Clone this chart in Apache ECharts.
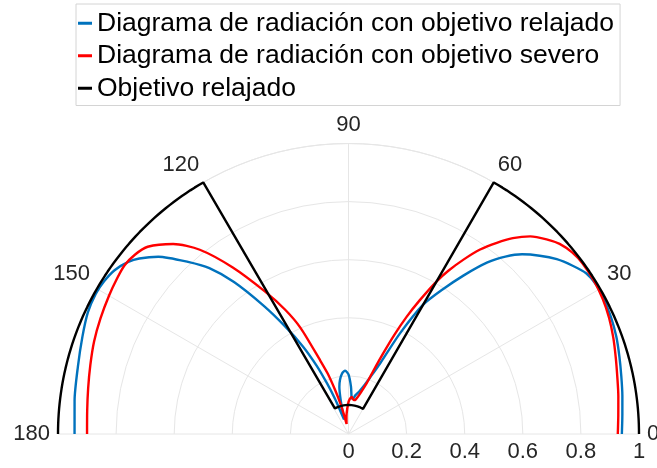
<!DOCTYPE html>
<html>
<head>
<meta charset="utf-8">
<script src="https://cdn.jsdelivr.net/npm/echarts@6/dist/echarts.min.js"></script>
<style>
  html, body { margin: 0; padding: 0; background: #ffffff; }
  #chart { width: 657px; height: 468px; }
</style>
</head>
<body>
<div id="chart"></div>
<script>
// Angular and radial tick values of the half-polar frame
const thetaTicks = [0, 30, 60, 90, 120, 150, 180];
const radiusTicks = [0, 0.2, 0.4, 0.6, 0.8, 1];

// Radiation pattern obtained with the relaxed objective (angle in degrees, normalised amplitude)
const relaxedTheta = [0, 4, 8, 12, 16, 20, 24, 28, 31, 34, 37, 40, 43, 46, 48.5, 51, 54, 57, 60,
  62.9, 65.9, 69, 72.6, 76, 80, 83, 85, 87, 90, 93, 96, 99, 101, 103, 105, 107, 109, 111, 113, 115,
  117.5, 120.5, 123.5, 127, 130, 133, 137, 140, 142, 145, 148, 151, 155, 160, 166, 173, 180];
const relaxedR = [0.941, 0.945, 0.952, 0.960, 0.970, 0.981, 0.989, 0.994, 0.996, 0.988, 0.964, 0.936,
  0.900, 0.860, 0.815, 0.760, 0.675, 0.592, 0.514, 0.389, 0.266, 0.210, 0.171, 0.150, 0.135, 0.122,
  0.125, 0.163, 0.205, 0.218, 0.210, 0.188, 0.165, 0.120, 0.075, 0.052, 0.075, 0.130, 0.190, 0.260,
  0.340, 0.430, 0.530, 0.655, 0.745, 0.810, 0.895, 0.940, 0.962, 0.983, 0.992, 0.995, 0.990, 0.975,
  0.960, 0.950, 0.943];

// Radiation pattern obtained with the strict objective
const strictTheta = [0, 4, 8, 12, 16, 20, 24, 28, 32, 36, 39, 42, 44.5, 47.4, 50, 52.2, 54.5, 56.6,
  58.5, 60, 62, 63.6, 65.2, 66.7, 68.5, 70.3, 74, 78, 81, 85, 88, 90.5, 95, 98, 101, 103, 105, 107,
  109, 111, 114.3, 117, 120.4, 124.8, 128.9, 132.7, 137, 140, 143, 146, 150, 155, 160, 165, 170, 175, 180];
const strictR = [0.927, 0.931, 0.938, 0.946, 0.957, 0.970, 0.982, 0.991, 0.996, 0.997, 0.992, 0.978,
  0.956, 0.924, 0.880, 0.833, 0.780, 0.719, 0.660, 0.607, 0.520, 0.451, 0.375, 0.303, 0.235, 0.186,
  0.145, 0.122, 0.118, 0.128, 0.120, 0.106, 0.072, 0.050, 0.035, 0.065, 0.110, 0.160, 0.220, 0.270,
  0.400, 0.480, 0.569, 0.698, 0.815, 0.890, 0.945, 0.960, 0.965, 0.960, 0.952, 0.942, 0.932, 0.920,
  0.910, 0.903, 0.900];

// Relaxed objective mask: constant level over each angular sector
const maskEdges = [0, 60, 120, 180];
const maskLevels = [1, 0.1, 1];

const seriesNames = [
  'Diagrama de radiación con objetivo relajado',
  'Diagrama de radiación con objetivo severo',
  'Objetivo relajado'
];
const seriesColors = ['#0072BD', '#FF0000', '#000000'];

function pairs(theta, r) {
  return theta.map((t, i) => [r[i], t]);
}

// Each constant sector is traced one degree at a time so its arc follows the circle
function maskPoints(edges, levels) {
  const pts = [];
  for (let s = 0; s < levels.length; s++) {
    for (let t = edges[s]; t <= edges[s + 1]; t += 1) {
      pts.push([levels[s], t]);
    }
  }
  return pts;
}

const font = 'Liberation Sans, Arial, Helvetica, sans-serif';
const gridColor = '#e6e6e6';
const lineWidth = 2.4;

// Frame geometry: the visible grid uses radius R for r = 1. The curves live on a
// second, invisible polar system of the same scale but a slightly larger extent,
// so lines lying on r = 1 are not clipped at the sector edge.
const cx = 348.5, cy = 434, R = 290.5, Rplot = 300;
const plotMax = radiusTicks[radiusTicks.length - 1] * Rplot / R;

const chart = echarts.init(document.getElementById('chart'), null, { renderer: 'canvas' });

const hiddenAxis = {
  axisLine: { show: false }, axisTick: { show: false },
  axisLabel: { show: false }, splitLine: { show: false }
};

chart.setOption({
  animation: false,
  backgroundColor: '#ffffff',
  textStyle: { fontFamily: font },
  legend: {
    orient: 'vertical',
    left: 76,
    top: 4,
    padding: [3, 6, 1, 2],
    itemGap: 0,
    itemWidth: 14,
    itemHeight: 3,
    icon: 'rect',
    borderColor: '#d4d4d4',
    borderWidth: 1,
    textStyle: { fontFamily: font, fontSize: 26.5, color: '#000000', lineHeight: 32.5 },
    data: seriesNames
  },
  polar: [
    { center: [cx, cy], radius: R },
    { center: [cx, cy], radius: Rplot }
  ],
  angleAxis: [
    {
      polarIndex: 0,
      type: 'value',
      min: thetaTicks[0],
      max: thetaTicks[thetaTicks.length - 1],
      interval: 30,
      startAngle: 0,
      endAngle: 180,
      clockwise: false,
      axisLine: { show: true, lineStyle: { color: gridColor, width: 1 } },
      axisTick: { show: false },
      axisLabel: {
        fontFamily: font, fontSize: 22, color: '#262626', margin: 8,
        formatter: v => thetaTicks.includes(v) ? String(v) : ''
      },
      splitLine: { show: true, lineStyle: { color: gridColor, width: 1 } }
    },
    Object.assign({
      polarIndex: 1,
      type: 'value',
      min: thetaTicks[0],
      max: thetaTicks[thetaTicks.length - 1],
      startAngle: 0,
      endAngle: 180,
      clockwise: false
    }, hiddenAxis)
  ],
  radiusAxis: [
    {
      polarIndex: 0,
      type: 'value',
      min: radiusTicks[0],
      max: radiusTicks[radiusTicks.length - 1],
      interval: 0.2,
      axisLine: { show: false },
      axisTick: { show: false },
      axisLabel: {
        fontFamily: font, fontSize: 22, color: '#262626', margin: -7, verticalAlign: 'top',
        formatter: v => String(Math.round(v * 10) / 10)
      },
      splitLine: { show: true, lineStyle: { color: gridColor, width: 1 } }
    },
    Object.assign({
      polarIndex: 1,
      type: 'value',
      min: radiusTicks[0],
      max: plotMax
    }, hiddenAxis)
  ],
  series: [
    {
      name: seriesNames[0], type: 'line', coordinateSystem: 'polar', polarIndex: 1,
      data: pairs(relaxedTheta, relaxedR), showSymbol: false, smooth: 0.25,
      color: seriesColors[0], lineStyle: { color: seriesColors[0], width: lineWidth }
    },
    {
      name: seriesNames[1], type: 'line', coordinateSystem: 'polar', polarIndex: 1,
      data: pairs(strictTheta, strictR), showSymbol: false, smooth: 0.25,
      color: seriesColors[1], lineStyle: { color: seriesColors[1], width: lineWidth }
    },
    {
      name: seriesNames[2], type: 'line', coordinateSystem: 'polar', polarIndex: 1,
      data: maskPoints(maskEdges, maskLevels), showSymbol: false,
      color: seriesColors[2], lineStyle: { color: seriesColors[2], width: lineWidth }
    }
  ]
});
</script>
</body>
</html>
